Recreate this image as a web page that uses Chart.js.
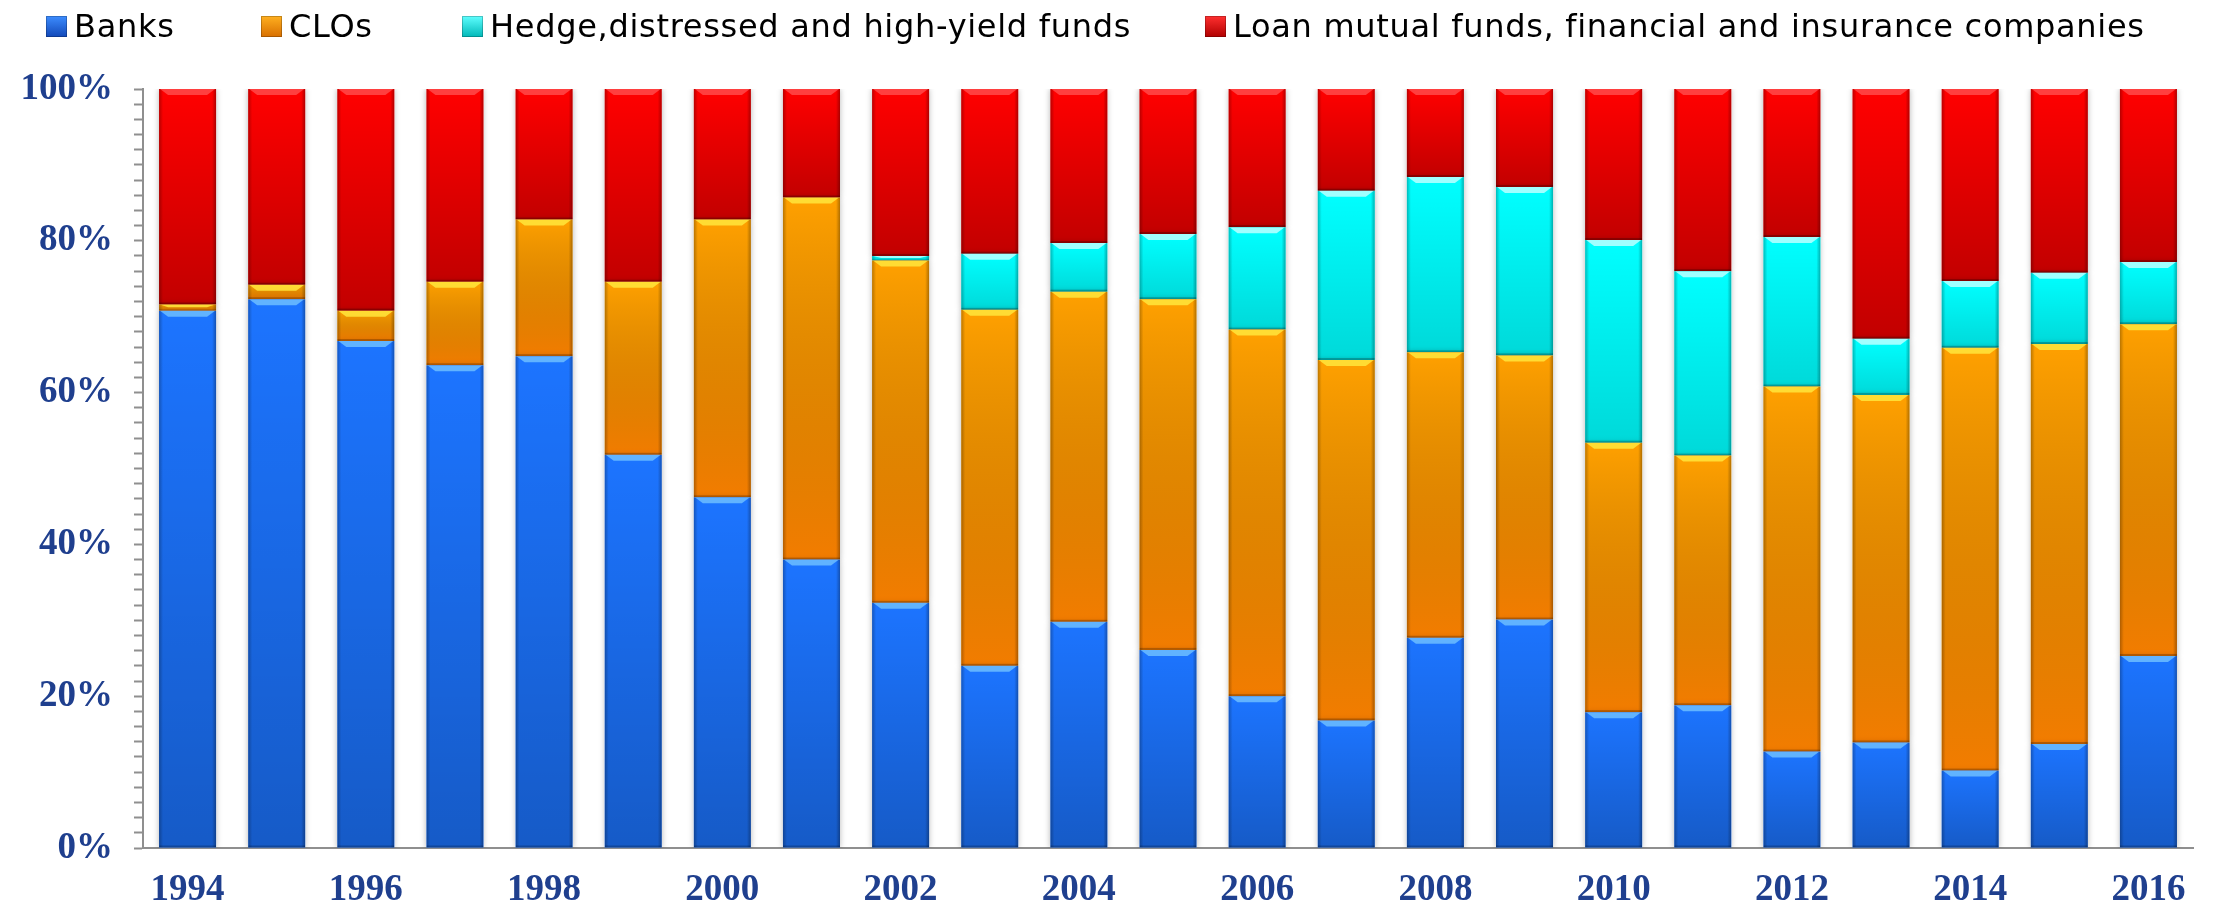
<!DOCTYPE html>
<html>
<head>
<meta charset="utf-8">
<script src="https://cdn.jsdelivr.net/npm/chart.js@4/dist/chart.umd.min.js"></script>
<style>
  html, body { margin: 0; padding: 0; background: #ffffff; }
  #wrap { position: relative; width: 2214px; height: 903px; }
  #legend { position: absolute; left: 0; top: 0; width: 2214px; height: 50px;
    font-family: "DejaVu Sans", sans-serif; font-size: 32px; letter-spacing: 0.7px; color: #000; }
  #legend .item { position: absolute; top: 10px; height: 32px; line-height: 32px;
    display: flex; align-items: center; white-space: nowrap; }
  #legend .box { width: 21px; height: 21px; margin-right: 7px; box-shadow: inset 0 0 0 1px rgba(0,0,0,0.22); }
</style>
</head>
<body>
<div id="wrap">
  <canvas id="chart" width="2214" height="903"></canvas>
  <div id="legend"></div>
</div>
<script>
// Share of leveraged-loan holdings by investor type, in percent of the total
const years = ['1994','1995','1996','1997','1998','1999','2000','2001','2002','2003','2004','2005',
               '2006','2007','2008','2009','2010','2011','2012','2013','2014','2015','2016'];
const banks = [70.8, 72.3, 66.8, 63.6, 64.8, 51.8, 46.2, 38.0, 32.3, 24.0, 29.8, 26.1,
               20.0, 16.8, 27.7, 30.1, 17.9, 18.8, 12.7, 13.9, 10.2, 13.7, 25.3];
const clos = [0.8, 1.9, 4.0, 11.0, 18.0, 22.8, 36.6, 47.7, 45.1, 46.9, 43.5, 46.2,
              48.3, 47.5, 37.6, 34.8, 35.5, 32.9, 48.1, 45.8, 55.7, 52.7, 43.7];
const hedgeFunds = [0, 0, 0, 0, 0, 0, 0, 0, 0.6, 7.4, 6.4, 8.6,
                    13.5, 22.3, 23.1, 22.2, 26.7, 24.3, 19.7, 7.4, 8.8, 9.4, 8.2];
const loanFunds = [28.4, 25.8, 29.2, 25.4, 17.2, 25.4, 17.2, 14.3, 22.0, 21.7, 20.3, 19.1,
                   18.2, 13.4, 11.6, 12.9, 19.9, 24.0, 19.5, 32.9, 25.3, 24.2, 22.8];
const seriesNames = ['Banks', 'CLOs', 'Hedge,distressed and high-yield funds',
                     'Loan mutual funds, financial and insurance companies'];
const yTickValues = [0, 20, 40, 60, 80, 100];

const fills = ['#1c74ff', '#ffa000', '#00ffff', '#ff0000'];
// colour each segment fades toward at its bottom edge
const shades = ['rgba(0,0,0,0.22)', 'rgba(225,75,0,0.42)', 'rgba(0,0,0,0.15)', 'rgba(0,0,0,0.24)'];
const bevels = ['rgba(120,200,255,0.75)', 'rgba(255,230,60,0.85)', 'rgba(200,255,255,0.8)', 'rgba(255,90,90,0.7)'];
const legendGrad = [
  'linear-gradient(#3d8dff, #1248b8)', 'linear-gradient(#ffb020, #d86f00)',
  'linear-gradient(#5fffff, #00b8b8)', 'linear-gradient(#ff3030, #b00000)'
];
const legendLeft = [46, 261, 462, 1205];
const axisBlue = '#1f3f8e';
const tickFont = { family: '"Liberation Serif", serif', weight: 'bold', size: 37 };

// Soft halo under the bars, then a glossy bevel over every segment
const barGloss = {
  id: 'barGloss',
  beforeDatasetsDraw(chart) {
    const c = chart.ctx;
    c.save();
    c.shadowColor = 'rgba(0,0,0,0.28)';
    c.shadowBlur = 6;
  },
  afterDatasetsDraw(chart) {
    const c = chart.ctx;
    c.restore();
    chart.data.datasets.forEach((ds, di) => {
      const meta = chart.getDatasetMeta(di);
      if (meta.hidden) return;
      meta.data.forEach(bar => {
        const p = bar.getProps(['x', 'y', 'base', 'width'], true);
        const top = Math.min(p.y, p.base), bottom = Math.max(p.y, p.base);
        const h = bottom - top;
        if (h < 0.5) return;
        const left = p.x - p.width / 2, right = p.x + p.width / 2, w = p.width;
        c.save();
        c.beginPath(); c.rect(left, top, w, h); c.clip();
        let g = c.createLinearGradient(0, top, 0, bottom);
        g.addColorStop(0, 'rgba(0,0,0,0)');
        g.addColorStop(1, shades[di]);
        c.fillStyle = g; c.fillRect(left, top, w, h);
        g = c.createLinearGradient(left, 0, right, 0);
        g.addColorStop(0, 'rgba(0,0,0,0.26)');
        g.addColorStop(0.07, 'rgba(0,0,0,0)');
        g.addColorStop(0.93, 'rgba(0,0,0,0)');
        g.addColorStop(1, 'rgba(0,0,0,0.3)');
        c.fillStyle = g; c.fillRect(left, top, w, h);
        const bh = Math.min(6, h * 0.45);
        c.beginPath();
        c.moveTo(left + 1, top); c.lineTo(right - 1, top);
        c.lineTo(right - 9, top + bh); c.lineTo(left + 9, top + bh); c.closePath();
        c.fillStyle = bevels[di]; c.fill();
        c.fillStyle = 'rgba(0,0,0,0.22)';
        c.fillRect(left, bottom - Math.min(2, h * 0.2), w, Math.min(2, h * 0.2));
        c.restore();
      });
    });
  }
};

const seriesData = [banks, clos, hedgeFunds, loanFunds];
const chart = new Chart(document.getElementById('chart'), {
  type: 'bar',
  data: {
    labels: years,
    datasets: seriesData.map((d, i) => ({
      label: seriesNames[i],
      data: d,
      backgroundColor: fills[i],
      borderWidth: 0,
      categoryPercentage: 1.0,
      barPercentage: 0.64
    }))
  },
  options: {
    responsive: false,
    animation: false,
    devicePixelRatio: 1,
    layout: { padding: { top: 89, right: 21, bottom: 0, left: 0 } },
    plugins: { legend: { display: false }, tooltip: { enabled: false } },
    scales: {
      x: {
        stacked: true,
        grid: { display: true, drawOnChartArea: false, drawTicks: false },
        border: { display: true, color: '#8f8f8f', width: 2 },
        ticks: {
          autoSkip: false, maxRotation: 0, padding: 20, color: axisBlue, font: tickFont,
          callback: (v, i) => (i % 2 === 0 ? years[i] : '')
        },
        afterFit: s => { s.height = 55; }
      },
      y: {
        stacked: true, min: 0, max: 100,
        grid: { display: true, drawOnChartArea: false, drawTicks: true, tickLength: 9, color: '#8f8f8f', tickWidth: 2 },
        border: { display: true, color: '#8f8f8f', width: 2 },
        ticks: {
          stepSize: 2, autoSkip: false, padding: 21, color: axisBlue, font: tickFont,
          callback: v => (yTickValues.includes(v) ? v + '%' : '')
        },
        afterFit: s => { s.width = 143; }
      }
    }
  },
  plugins: [barGloss]
});

// Legend row built from the chart's datasets
const legendEl = document.getElementById('legend');
chart.data.datasets.forEach((ds, i) => {
  const item = document.createElement('div');
  item.className = 'item';
  item.style.left = legendLeft[i] + 'px';
  const box = document.createElement('span');
  box.className = 'box';
  box.style.background = legendGrad[i];
  const txt = document.createElement('span');
  txt.textContent = ds.label;
  item.appendChild(box); item.appendChild(txt);
  legendEl.appendChild(item);
});
</script>
</body>
</html>
